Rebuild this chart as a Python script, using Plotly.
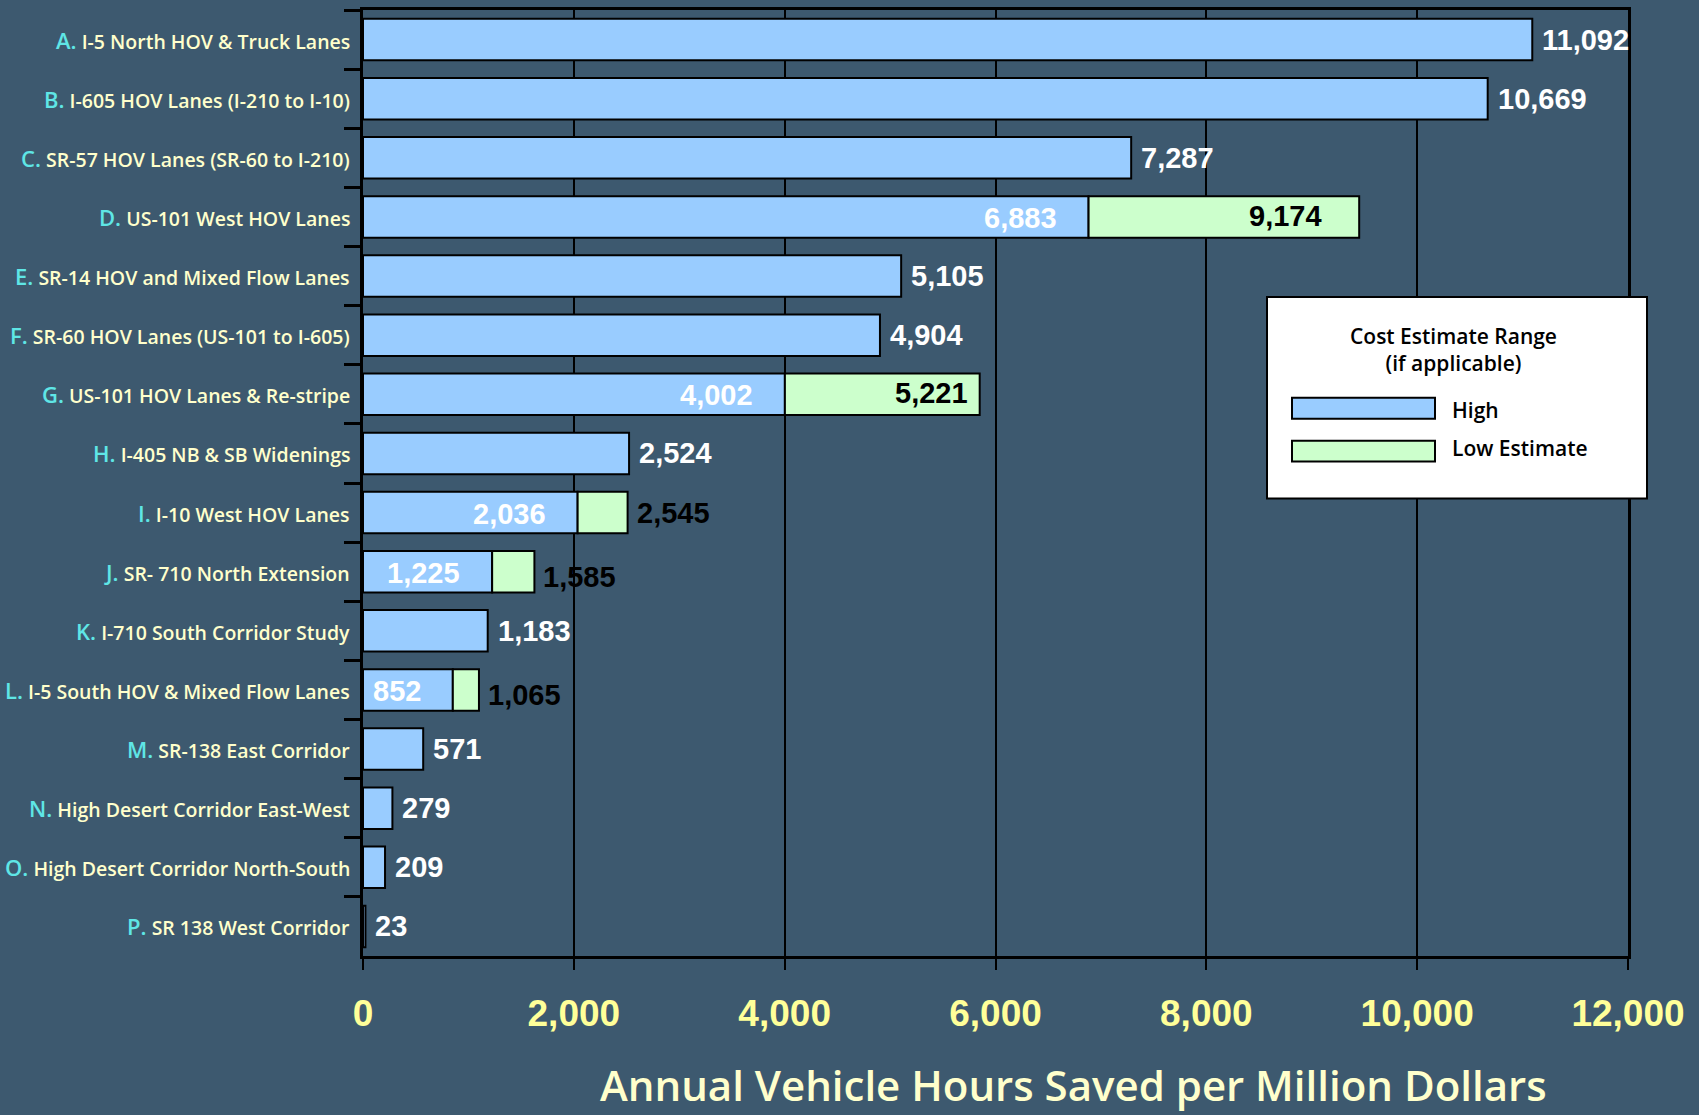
import plotly.graph_objects as go

# ---- data ----
letters = ["A.", "B.", "C.", "D.", "E.", "F.", "G.", "H.", "I.", "J.", "K.", "L.", "M.", "N.", "O.", "P."]
projects = [
    "I-5 North HOV & Truck Lanes",
    "I-605 HOV Lanes (I-210 to I-10)",
    "SR-57 HOV Lanes (SR-60 to I-210)",
    "US-101 West HOV Lanes",
    "SR-14 HOV and Mixed Flow Lanes",
    "SR-60 HOV Lanes (US-101 to I-605)",
    "US-101 HOV Lanes & Re-stripe",
    "I-405 NB & SB Widenings",
    "I-10 West HOV Lanes",
    "SR- 710 North Extension",
    "I-710 South Corridor Study",
    "I-5 South HOV & Mixed Flow Lanes",
    "SR-138 East Corridor",
    "High Desert Corridor East-West",
    "High Desert Corridor North-South",
    "SR 138 West Corridor",
]
high_values = [11092, 10669, 7287, 6883, 5105, 4904, 4002, 2524, 2036, 1225, 1183, 852, 571, 279, 209, 23]
low_values = [None, None, None, 9174, None, None, 5221, None, 2545, 1585, None, 1065, None, None, None, None]
# extent of the green bars as drawn in the picture
low_bar_extent = [None, None, None, 9450, None, None, 5850, None, 2510, 1626, None, 1100, None, None, None, None]
x_ticks = [0, 2000, 4000, 6000, 8000, 10000, 12000]

BG = "#3d596f"
BLUE = "#99ccff"
GREEN = "#ccffcc"
NUMFONT = "Liberation Sans"
TXTFONT = "Open Sans"

cats = [l + " " + p for l, p in zip(letters, projects)]

fig = go.Figure()
fig.add_trace(go.Bar(
    y=cats, x=high_values, orientation="h", width=0.7,
    marker=dict(color=BLUE, line=dict(color="black", width=2)),
    name="High", showlegend=False, hoverinfo="x+y",
))
lo_idx = [i for i, v in enumerate(low_bar_extent) if v is not None]
fig.add_trace(go.Bar(
    y=[cats[i] for i in lo_idx],
    x=[low_bar_extent[i] - high_values[i] for i in lo_idx],
    base=[high_values[i] for i in lo_idx],
    orientation="h", width=0.7,
    marker=dict(color=GREEN, line=dict(color="black", width=2)),
    name="Low Estimate", showlegend=False, hoverinfo="x+y",
))

ann = []
# category labels
for c, l, p in zip(cats, letters, projects):
    ann.append(dict(
        x=0, xref="paper", y=c, yref="y", xanchor="right", yanchor="middle",
        xshift=-11, showarrow=False,
        text=f"<span style='color:#5fe6e6;font-size:22px'>{l}</span> {p}",
        font=dict(family=TXTFONT, size=19.5, color="#ffffcc", weight=600),
    ))

NUMSIZE = 29
inside_pad = {3: 35, 6: 10}
for i, c in enumerate(cats):
    h = high_values[i]
    if low_values[i] is None:
        ann.append(dict(x=h, y=c, xanchor="left", xshift=8, yshift=0, showarrow=False,
                        text=f"{h:,}", font=dict(family=NUMFONT, size=NUMSIZE, color="white", weight="bold")))
    else:
        ann.append(dict(x=h, y=c, xanchor="right", xshift=-30, yshift=-1, showarrow=False,
                        text=f"{h:,}", font=dict(family=NUMFONT, size=NUMSIZE, color="white", weight="bold")))
        e = low_bar_extent[i]
        if i in inside_pad:
            ann.append(dict(x=e, y=c, xanchor="right", xshift=-inside_pad[i], yshift=1, showarrow=False,
                            text=f"{low_values[i]:,}", font=dict(family=NUMFONT, size=NUMSIZE, color="black", weight="bold")))
        else:
            ys = 0 if i == 8 else -5
            ann.append(dict(x=e, y=c, xanchor="left", xshift=7, yshift=ys, showarrow=False,
                            text=f"{low_values[i]:,}", font=dict(family=NUMFONT, size=NUMSIZE, color="black", weight="bold")))

# axis title
ann.append(dict(x=0.562, xref="paper", y=-0.136, yref="paper", xanchor="center", yanchor="middle", showarrow=False,
                text="Annual Vehicle Hours Saved per Million Dollars",
                font=dict(family=TXTFONT, size=42, color="#ffffcc", weight=600)))

# legend (drawn manually)
W, H = 1699, 1115
L_, R_, T_, B_ = 363, 71, 7, 159
pw, ph = W - L_ - R_, H - T_ - B_
def px(x): return (x - L_) / pw
def py(y): return 1 - (y - T_) / ph

shapes = [
    dict(type="rect", xref="paper", yref="paper", x0=px(1267), x1=px(1647), y0=py(497), y1=py(295),
         fillcolor="white", line=dict(color="black", width=2), layer="above"),
    dict(type="rect", xref="paper", yref="paper", x0=px(1292), x1=px(1435), y0=py(417), y1=py(396),
         fillcolor=BLUE, line=dict(color="black", width=2), layer="above"),
    dict(type="rect", xref="paper", yref="paper", x0=px(1292), x1=px(1435), y0=py(460), y1=py(439),
         fillcolor=GREEN, line=dict(color="black", width=2), layer="above"),
]
ann.append(dict(x=px(1453), y=py(348), xref="paper", yref="paper", xanchor="center", yanchor="middle",
                showarrow=False, text="Cost Estimate Range<br>(if applicable)", align="center",
                font=dict(family=TXTFONT, size=21, color="black", weight=600)))
ann.append(dict(x=px(1450), y=py(408), xref="paper", yref="paper", xanchor="left", yanchor="middle",
                showarrow=False, text="High", font=dict(family=TXTFONT, size=21, color="black", weight=600)))
ann.append(dict(x=px(1450), y=py(446), xref="paper", yref="paper", xanchor="left", yanchor="middle",
                showarrow=False, text="Low Estimate", font=dict(family=TXTFONT, size=21, color="black", weight=600)))

fig.update_layout(
    width=W, height=H,
    margin=dict(l=L_, r=R_, t=T_, b=B_, pad=0),
    paper_bgcolor=BG, plot_bgcolor=BG,
    barmode="overlay", showlegend=False,
    annotations=ann, shapes=shapes,
    xaxis=dict(
        range=[0, 12000], tickvals=x_ticks, ticktext=[f"{v:,}" for v in x_ticks],
        showgrid=True, gridcolor="black", gridwidth=2, zeroline=False,
        showline=True, linecolor="black", linewidth=3, mirror=True,
        ticks="outside", ticklen=11, tickwidth=2, tickcolor="black",
        tickfont=dict(family=NUMFONT, size=37, color="#ffff99", weight="bold"),
        ticklabelstandoff=12,
    ),
    yaxis=dict(
        type="category", categoryorder="array", categoryarray=cats, autorange="reversed",
        showticklabels=False, ticks="outside", tickson="boundaries", ticklen=16, tickwidth=2.5,
        tickcolor="black", showgrid=False, zeroline=False,
        showline=True, linecolor="black", linewidth=3, mirror=True,
    ),
)

fig.write_html(
    "out.html",
    config={"displayModeBar": False},
    post_script="document.body.style.margin='0';document.body.style.background='" + BG + "';",
)
